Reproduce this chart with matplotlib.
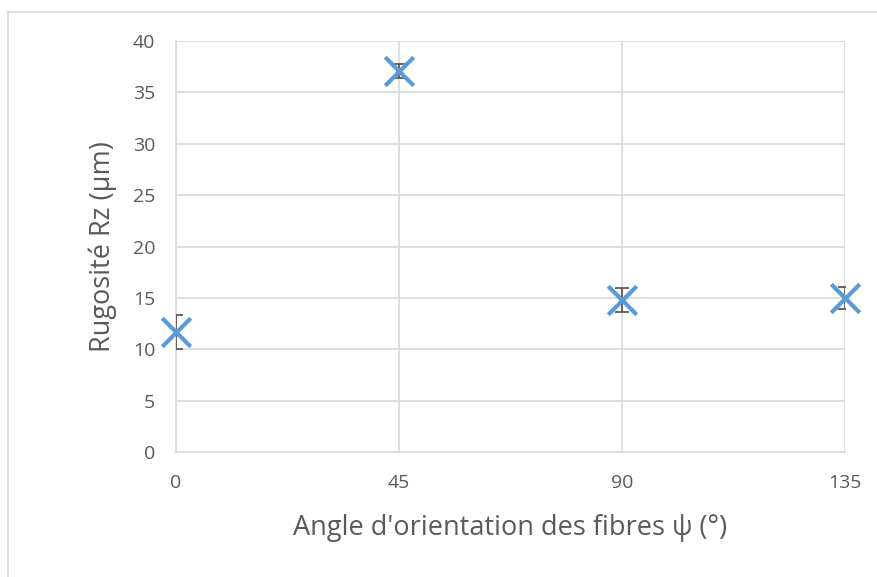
import matplotlib.pyplot as plt
from matplotlib.lines import Line2D

# data
angles = [0, 45, 90, 135]
rz_mean = [11.7, 37.1, 14.8, 15.0]
rz_err = [1.65, 0.7, 1.15, 1.1]
x_ticks = [0, 45, 90, 135]
y_ticks = [0, 5, 10, 15, 20, 25, 30, 35, 40]

plt.rcParams['font.family'] = ['Open Sans', 'DejaVu Sans']

fig = plt.figure(figsize=(8.77, 5.77), dpi=100)
ax = fig.add_axes([0.2007, 0.2166, 0.7628, 0.7123])

# error bars then the blue crosses
ax.errorbar(angles, rz_mean, yerr=rz_err, fmt='none', ecolor='#595959',
            elinewidth=1.3, capsize=5, capthick=1.3, zorder=3)
ax.scatter(angles, rz_mean, marker='x', s=420, color='#5B9BD5',
           linewidths=3, zorder=4, clip_on=False)

ax.set_xlim(0, 135)
ax.set_ylim(0, 40)
ax.set_xticks(x_ticks)
ax.set_yticks(y_ticks)
ax.grid(True, color='#D9D9D9', linewidth=1.2)
ax.set_axisbelow(True)

for side in ['top', 'right']:
    ax.spines[side].set_visible(False)
ax.spines['left'].set_color('#D9D9D9')
ax.spines['bottom'].set_color('#D9D9D9')
ax.spines['left'].set_linewidth(1.2)
ax.spines['bottom'].set_linewidth(1.2)

ax.tick_params(length=0, labelsize=14, colors='#595959')
ax.tick_params(axis='x', pad=16)
ax.tick_params(axis='y', pad=15)
ax.set_xlabel("Angle d'orientation des fibres ψ (°)", fontsize=19.5,
              color='#595959', va='center')
ax.set_ylabel("Rugosité Rz (μm)", fontsize=19.5, color='#595959',
              va='center')
ax.xaxis.set_label_coords(0.5, (452 - 528) / 411)
ax.yaxis.set_label_coords((103 - 176) / 669, 0.5)

# outer chart frame (top and left edges only visible)
fig.add_artist(Line2D([8 / 877, 1.0], [1 - 12 / 577, 1 - 12 / 577],
                      color='#D9D9D9', linewidth=1.2))
fig.add_artist(Line2D([8 / 877, 8 / 877], [0.0, 1 - 12 / 577],
                      color='#D9D9D9', linewidth=1.2))

fig.savefig('out.png', dpi=100)
